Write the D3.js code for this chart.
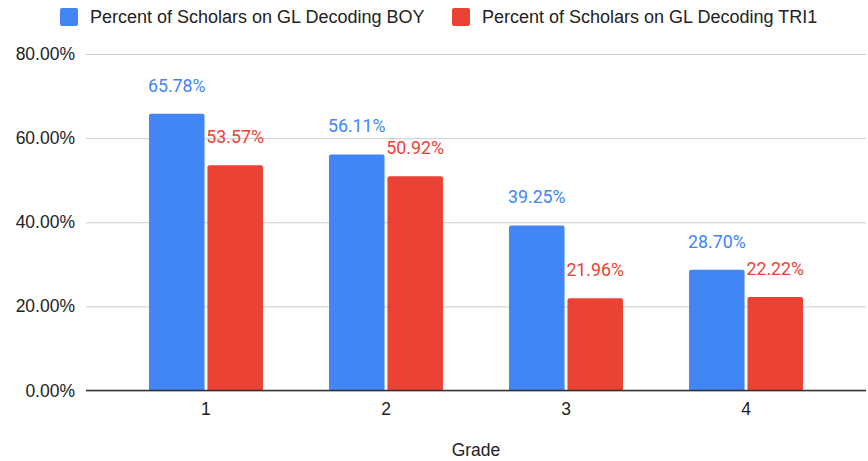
<!DOCTYPE html>
<html>
<head>
<meta charset="utf-8">
<script src="https://cdn.jsdelivr.net/npm/d3@7"></script>
<style>
  body { margin: 0; background: #fff; }
  svg { display: block; }
</style>
</head>
<body>
<div id="chart"></div>
<script>
const GRADES = ["1", "2", "3", "4"];
const SERIES = ["Percent of Scholars on GL Decoding BOY", "Percent of Scholars on GL Decoding TRI1"];
const BOY = [65.78, 56.11, 39.25, 28.70];
const TRI1 = [53.57, 50.92, 21.96, 22.22];
const Y_TICKS = [0, 20, 40, 60, 80];
const COLORS = ["#4285f4", "#ea4335"];

const WIDTH = 868, HEIGHT = 461;
const MARGIN = { top: 54, right: 2, bottom: 70.5, left: 86 };
const AXIS_FONT = "Liberation Sans, Arial, sans-serif";

const data = GRADES.map((g, i) => ({ grade: g, values: [BOY[i], TRI1[i]] }));

const svg = d3.select("#chart")
  .append("svg")
    .attr("width", WIDTH)
    .attr("height", HEIGHT);

// SCALES
const x0 = d3.scaleBand()
  .domain(GRADES)
  .range([MARGIN.left, WIDTH - MARGIN.right])
  .paddingInner(0.367)
  .paddingOuter(0.35);

const x1 = d3.scaleBand()
  .domain([0, 1])
  .range([0, x0.bandwidth()])
  .paddingInner(0.05);

const y = d3.scaleLinear()
  .domain([0, 80])
  .range([HEIGHT - MARGIN.bottom, MARGIN.top]);

// GRIDLINES + Y LABELS
const yAxis = svg.append("g")
  .attr("transform", `translate(${MARGIN.left},0)`)
  .call(d3.axisLeft(y)
    .tickValues(Y_TICKS)
    .tickSize(-(WIDTH - MARGIN.left - MARGIN.right))
    .tickPadding(11)
    .tickFormat(d => d.toFixed(2) + "%"));
yAxis.select(".domain").remove();
yAxis.selectAll(".tick line").attr("stroke", "#cccccc").attr("stroke-width", 1);
yAxis.selectAll(".tick text")
  .attr("fill", "#222")
  .style("font-family", AXIS_FONT)
  .style("font-size", "17.5px");

// BARS
const groups = svg.append("g")
  .selectAll("g")
  .data(data)
  .join("g")
    .attr("transform", d => `translate(${x0(d.grade)},0)`);

groups.selectAll("path")
  .data(d => d.values.map((v, i) => ({ v, i })))
  .join("path")
    .attr("fill", d => COLORS[d.i])
    .attr("d", d => {
      const bx = x1(d.i), bw = x1.bandwidth();
      const top = y(d.v), bottom = y(0), r = 2;
      return `M${bx},${bottom}V${top + r}Q${bx},${top} ${bx + r},${top}` +
        `H${bx + bw - r}Q${bx + bw},${top} ${bx + bw},${top + r}V${bottom}Z`;
    });

groups.selectAll("text")
  .data(d => d.values.map((v, i) => ({ v, i })))
  .join("text")
    .attr("x", d => x1(d.i) + x1.bandwidth() / 2)
    .attr("y", d => y(d.v) - 22)
    .attr("text-anchor", "middle")
    .attr("fill", d => COLORS[d.i])
    .style("font-family", "Roboto, sans-serif")
    .style("font-size", "17.8px")
    .text(d => d.v.toFixed(2) + "%");

// X AXIS
const xAxis = svg.append("g")
  .attr("transform", `translate(0,${y(0)})`)
  .call(d3.axisBottom(x0).tickSize(0).tickPadding(12));
xAxis.select(".domain")
  .attr("d", `M${MARGIN.left},0H${WIDTH - MARGIN.right}`)
  .attr("stroke", "#333")
  .attr("stroke-width", 1.3);
xAxis.selectAll(".tick text")
  .attr("fill", "#222")
  .style("font-family", AXIS_FONT)
  .style("font-size", "17.5px");

svg.append("text")
  .attr("x", 476)
  .attr("y", 456)
  .attr("text-anchor", "middle")
  .attr("fill", "#222")
  .style("font-family", AXIS_FONT)
  .style("font-size", "17.5px")
  .text("Grade");

// LEGEND
const legendX = [60, 452];
const legend = svg.append("g")
  .selectAll("g")
  .data(SERIES)
  .join("g")
    .attr("transform", (d, i) => `translate(${legendX[i]},8)`);
legend.append("rect")
  .attr("width", 18)
  .attr("height", 18)
  .attr("rx", 2)
  .attr("fill", (d, i) => COLORS[i]);
legend.append("text")
  .attr("x", 30)
  .attr("y", 15)
  .attr("fill", "#222")
  .style("font-family", AXIS_FONT)
  .style("font-size", "18px")
  .text(d => d);
</script>
</body>
</html>
